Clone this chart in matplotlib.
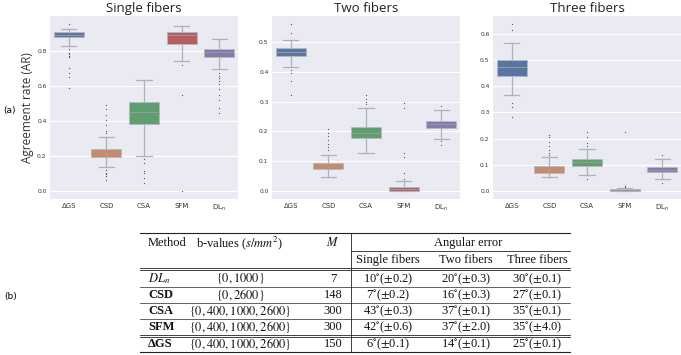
import matplotlib
matplotlib.use('Agg')
import matplotlib.pyplot as plt
from matplotlib.lines import Line2D

# ---------------- data ----------------
box_labels = ['ΔGS', 'CSD', 'CSA', 'SFM', r'DL$_\mathregular{n}$']
panel_titles = ['Single fibers', 'Two fibers', 'Three fibers']
box_colors = ['#5975A4', '#CC8963', '#5F9E6E', '#B55D60', '#857AAB']

single_q1 = [0.878, 0.196, 0.381, 0.838, 0.764]
single_med = [0.893, 0.219, 0.450, 0.893, 0.792]
single_q3 = [0.907, 0.240, 0.507, 0.907, 0.811]
single_lo = [0.830, 0.139, 0.200, 0.745, 0.695]
single_hi = [0.927, 0.309, 0.632, 0.943, 0.870]
single_fliers = [
    [0.952, 0.81, 0.79, 0.78, 0.773, 0.763, 0.70, 0.672, 0.65, 0.587],
    [0.49, 0.47, 0.434, 0.406, 0.375, 0.345, 0.33, 0.12, 0.105, 0.096, 0.083, 0.063],
    [0.18, 0.157, 0.116, 0.10, 0.072, 0.046],
    [0.72, 0.549, 0.002],
    [0.672, 0.657, 0.643, 0.629, 0.611, 0.581, 0.55, 0.52, 0.472, 0.446],
]

two_q1 = [0.454, 0.073, 0.179, 0.001, 0.211]
two_med = [0.468, 0.082, 0.196, 0.006, 0.225]
two_q3 = [0.482, 0.093, 0.216, 0.015, 0.235]
two_lo = [0.415, 0.048, 0.129, 0.000, 0.174]
two_hi = [0.507, 0.121, 0.278, 0.034, 0.272]
two_fliers = [
    [0.56, 0.53, 0.407, 0.398, 0.37, 0.323],
    [0.208, 0.195, 0.185, 0.17, 0.159, 0.148, 0.137],
    [0.323, 0.308, 0.300, 0.291],
    [0.295, 0.278, 0.127, 0.113, 0.062, 0.041],
    [0.284, 0.167, 0.155],
]

three_q1 = [0.440, 0.070, 0.097, 0.000, 0.071]
three_med = [0.474, 0.083, 0.110, 0.003, 0.081]
three_q3 = [0.500, 0.095, 0.122, 0.0076, 0.093]
three_lo = [0.366, 0.053, 0.061, 0.000, 0.048]
three_hi = [0.563, 0.130, 0.160, 0.012, 0.121]
three_fliers = [
    [0.636, 0.613, 0.335, 0.322, 0.284],
    [0.213, 0.205, 0.188, 0.170, 0.157, 0.145, 0.139],
    [0.226, 0.207, 0.185, 0.170, 0.046],
    [0.225, 0.020, 0.016],
    [0.138, 0.030],
]

panel_ylims = [(-0.046, 1.0), (-0.027, 0.588), (-0.03, 0.667)]
panel_yticks = [[0.0, 0.2, 0.4, 0.6, 0.8],
                [0.0, 0.1, 0.2, 0.3, 0.4, 0.5],
                [0.0, 0.1, 0.2, 0.3, 0.4, 0.5, 0.6]]

# table data
tab_methods = [r'$DL_n$', 'CSD', 'CSA', 'SFM', 'ΔGS']
tab_bvalues = [r'$\{0,1000\}$', r'$\{0,2600\}$', r'$\{0,400,1000,2600\}$',
               r'$\{0,400,1000,2600\}$', r'$\{0,400,1000,2600\}$']
tab_M = ['7', '148', '300', '300', '150']
tab_single = [r'10$^{\circ}$($\pm$0.2)', r'7$^{\circ}$($\pm$0.2)', r'43$^{\circ}$($\pm$0.3)',
              r'42$^{\circ}$($\pm$0.6)', r'6$^{\circ}$($\pm$0.1)']
tab_two = [r'20$^{\circ}$($\pm$0.3)', r'16$^{\circ}$($\pm$0.3)', r'37$^{\circ}$($\pm$0.1)',
           r'37$^{\circ}$($\pm$2.0)', r'14$^{\circ}$($\pm$0.1)']
tab_three = [r'30$^{\circ}$($\pm$0.1)', r'27$^{\circ}$($\pm$0.1)', r'35$^{\circ}$($\pm$0.1)',
             r'35$^{\circ}$($\pm$4.0)', r'25$^{\circ}$($\pm$0.1)']

# ---------------- figure ----------------
W, H = 681, 355
fig = plt.figure(figsize=(W / 100, H / 100), dpi=100)
fig.patch.set_facecolor('white')

def fx(px):
    return px / W

def fy(py):
    return 1 - py / H

panel_lefts = [50, 272, 493]
panel_width = 188
ax_top, ax_bot = 16, 199

panels = [
    (single_q1, single_med, single_q3, single_lo, single_hi, single_fliers),
    (two_q1, two_med, two_q3, two_lo, two_hi, two_fliers),
    (three_q1, three_med, three_q3, three_lo, three_hi, three_fliers),
]

for i, (q1, med, q3, lo, hi, fl) in enumerate(panels):
    ax = fig.add_axes([fx(panel_lefts[i]), fy(ax_bot), fx(panel_width), (ax_bot - ax_top) / H])
    ax.set_facecolor('#EAEAF2')
    for s in ax.spines.values():
        s.set_visible(False)
    ax.set_axisbelow(True)
    ax.yaxis.grid(True, color='white', lw=0.8)
    stats = []
    for k in range(5):
        stats.append(dict(med=med[k], q1=q1[k], q3=q3[k], whislo=lo[k], whishi=hi[k],
                          fliers=fl[k], label=box_labels[k]))
    bp = ax.bxp(stats, positions=list(range(5)), widths=0.8, patch_artist=True,
                showfliers=True, capwidths=0.4,
                boxprops=dict(edgecolor='#b8b8c0', linewidth=0.6),
                medianprops=dict(color='#9a9aa0', linewidth=0.7),
                whiskerprops=dict(color='#b0b0b8', linewidth=0.9),
                capprops=dict(color='#b0b0b8', linewidth=0.9),
                flierprops=dict(marker='o', markersize=0.9, markerfacecolor='#555555',
                                markeredgecolor='none', linestyle='none'))
    for patch, c in zip(bp['boxes'], box_colors):
        patch.set_facecolor(c)
    ax.set_xlim(-0.5, 4.5)
    ax.set_ylim(*panel_ylims[i])
    ax.set_yticks(panel_yticks[i])
    ax.set_yticklabels(['%.1f' % v for v in panel_yticks[i]])
    ax.tick_params(axis='y', length=0, labelsize=4.3, pad=2.5, labelcolor='#333333')
    ax.tick_params(axis='x', length=0, labelsize=5, pad=3, labelcolor='#333333')
    ax.set_title(panel_titles[i], fontsize=9.5, family='Open Sans', color='#222222', pad=3)
    if i == 0:
        ax.set_ylabel('Agreement rate (AR)', fontsize=8.5, family='Open Sans', color='#333333', labelpad=2)

fig.text(fx(9), fy(110), '(a)', fontsize=6.5, ha='center', va='center', family='DejaVu Sans')
fig.text(fx(11), fy(296), '(b)', fontsize=6.5, ha='center', va='center', family='DejaVu Sans')

# ---------------- table ----------------
plt.rcParams['mathtext.fontset'] = 'stix'
tfont = dict(family='Liberation Serif', fontsize=9, color='#111111')

tab_left, tab_right, vline_x = 140, 570, 351
col_method = 148
col_b = 240
col_M = 333
col_s, col_t, col_th = 388, 466, 537

row_top = 233
row_head = 243
row_sub = 260
row_y = [279, 295, 311, 327, 344]
row_bottom = 352

def hline(y, x0=tab_left, x1=tab_right, lw=0.8):
    fig.add_artist(Line2D([fx(x0), fx(x1)], [fy(y), fy(y)], transform=fig.transFigure,
                          color='#222222', lw=lw))

hline(row_top)
hline(251, vline_x, tab_right, lw=0.6)
hline(268, lw=0.6); hline(270, lw=0.6)
hline(287, lw=0.5); hline(303, lw=0.5); hline(319, lw=0.5)
hline(335, lw=0.6); hline(337, lw=0.6)
hline(row_bottom)
fig.add_artist(Line2D([fx(vline_x), fx(vline_x)], [fy(row_top), fy(row_bottom)],
                      transform=fig.transFigure, color='#222222', lw=0.6))

fig.text(fx(col_method), fy(row_head), 'Method', ha='left', va='center', **tfont)
fig.text(fx(col_b), fy(row_head), r'b-values ($s/mm^2$)', ha='center', va='center', **tfont)
fig.text(fx(col_M), fy(row_head), r'$M$', ha='center', va='center', **tfont)
fig.text(fx(468), fy(row_head), 'Angular error', ha='center', va='center', **tfont)
fig.text(fx(col_s), fy(row_sub), 'Single fibers', ha='center', va='center', **tfont)
fig.text(fx(col_t), fy(row_sub), 'Two fibers', ha='center', va='center', **tfont)
fig.text(fx(col_th), fy(row_sub), 'Three fibers', ha='center', va='center', **tfont)

for r in range(5):
    y = fy(row_y[r])
    wt = 'normal' if r == 0 else 'bold'
    fig.text(fx(col_method), y, tab_methods[r], ha='left', va='center', fontweight=wt, **tfont)
    fig.text(fx(col_b), y, tab_bvalues[r], ha='center', va='center', **tfont)
    fig.text(fx(col_M), y, tab_M[r], ha='center', va='center', **tfont)
    fig.text(fx(col_s), y, tab_single[r], ha='center', va='center', **tfont)
    fig.text(fx(col_t), y, tab_two[r], ha='center', va='center', **tfont)
    fig.text(fx(col_th), y, tab_three[r], ha='center', va='center', **tfont)

fig.savefig('out.png', dpi=100)
